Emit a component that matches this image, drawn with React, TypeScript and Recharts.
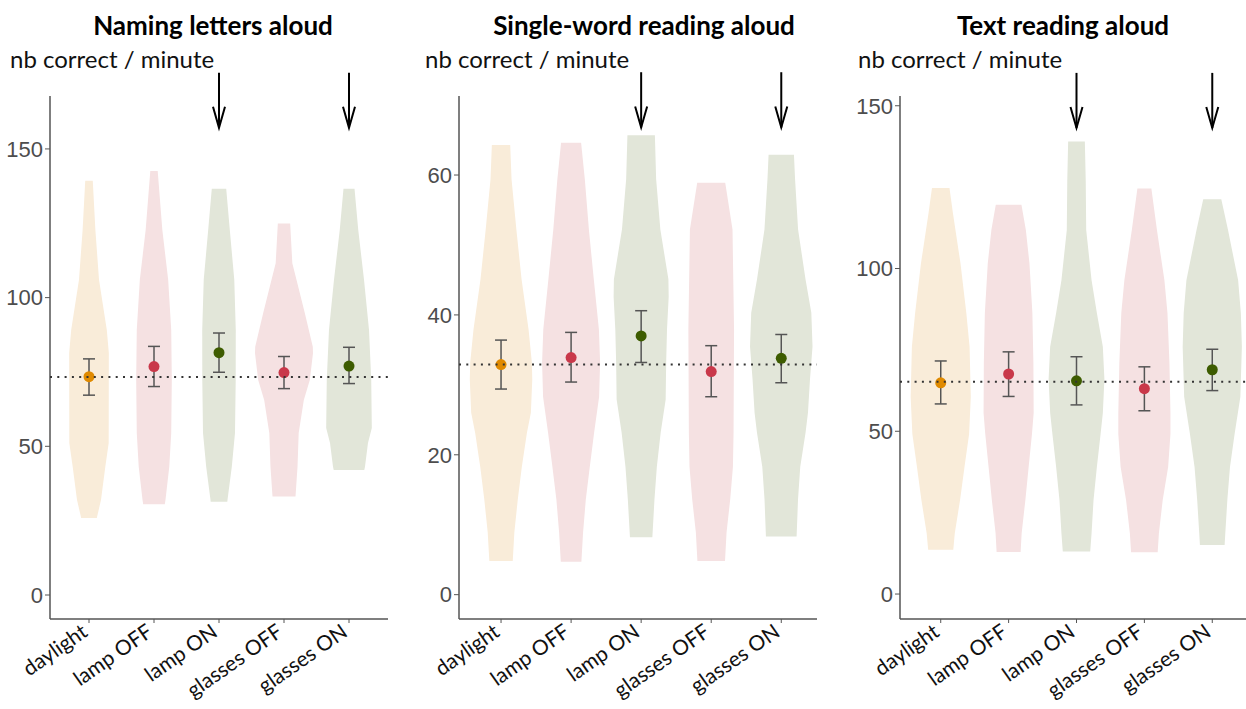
import React from 'react';
import { ScatterChart, Scatter, XAxis, YAxis, ReferenceLine, ErrorBar, Cell } from 'recharts';

const categories = ['daylight', 'lamp OFF', 'lamp ON', 'glasses OFF', 'glasses ON'];
const catPositions = [1, 2, 3, 4, 5];
const arrowCats = [3, 5];

// mean, lower / upper error bar ends, per condition
const lettersMean = [73.4, 76.8, 81.5, 74.8, 77.0];
const lettersLow = [67.2, 70.1, 74.9, 69.4, 71.1];
const lettersHigh = [79.4, 83.6, 88.1, 80.2, 83.3];
const lettersRef = 73.3;

const wordsMean = [32.9, 33.9, 37.0, 31.9, 33.8];
const wordsLow = [29.4, 30.4, 33.2, 28.3, 30.3];
const wordsHigh = [36.4, 37.5, 40.6, 35.6, 37.2];
const wordsRef = 32.9;

const textMean = [64.9, 67.6, 65.5, 63.1, 68.9];
const textLow = [58.4, 60.7, 58.1, 56.3, 62.5];
const textHigh = [71.6, 74.4, 72.9, 69.8, 75.2];
const textRef = 65.2;

// violin profiles: [value, half width in category units], top to bottom
type Profile = [number, number][];

const lettersViolins: Profile[] = [
  [[139.3, 0.058], [122.8, 0.098], [106, 0.154], [89.1, 0.274], [81.4, 0.305], [51.1, 0.303], [43.1, 0.251], [32, 0.185], [25.9, 0.12]],
  [[142.6, 0.057], [122.8, 0.128], [106, 0.218], [89.1, 0.265], [72.3, 0.274], [54.5, 0.265], [43.1, 0.235], [32, 0.177], [30.5, 0.166]],
  [[136.6, 0.111], [122.8, 0.166], [106, 0.235], [89.1, 0.258], [72.3, 0.257], [54.5, 0.246], [43.1, 0.197], [32, 0.131], [31.4, 0.128]],
  [[124.9, 0.095], [111.6, 0.128], [106, 0.192], [94.8, 0.32], [83.5, 0.443], [81.3, 0.446], [72.3, 0.397], [65.6, 0.305], [54.5, 0.226], [43.1, 0.208], [33.1, 0.177]],
  [[136.6, 0.085], [122.8, 0.142], [106, 0.231], [89.1, 0.308], [72.3, 0.342], [56.2, 0.351], [51.1, 0.292], [43.1, 0.246], [42.0, 0.235]],
];

const wordsViolins: Profile[] = [
  [[64.3, 0.131], [59.4, 0.15], [52.2, 0.219], [45.1, 0.293], [37.9, 0.393], [33.2, 0.44], [30.8, 0.446], [26, 0.426], [23.1, 0.369], [18.3, 0.297], [13.6, 0.239], [8.9, 0.19], [4.8, 0.167]],
  [[64.6, 0.143], [59.4, 0.196], [52.2, 0.254], [45.1, 0.324], [37.9, 0.397], [33.2, 0.414], [28.3, 0.4], [23.2, 0.329], [18.3, 0.267], [13.6, 0.21], [8.9, 0.171], [4.7, 0.147]],
  [[65.7, 0.196], [59.4, 0.214], [52.2, 0.274], [45.1, 0.389], [42.6, 0.393], [37.9, 0.369], [33.2, 0.357], [27.9, 0.35], [23.2, 0.279], [18.3, 0.224], [13.6, 0.19], [8.2, 0.16]],
  [[58.9, 0.2], [52.2, 0.304], [37.9, 0.326], [23.2, 0.319], [18.3, 0.31], [13.6, 0.271], [8.9, 0.219], [4.8, 0.197]],
  [[62.9, 0.181], [59.4, 0.197], [52.2, 0.24], [45.1, 0.346], [40.3, 0.429], [35.5, 0.446], [30.8, 0.41], [26, 0.381], [23.2, 0.347], [18.3, 0.271], [13.6, 0.239], [8.3, 0.219]],
];

const textViolins: Profile[] = [
  [[124.7, 0.129], [117, 0.18], [101.6, 0.291], [86.3, 0.377], [76, 0.425], [60.6, 0.443], [49.2, 0.418], [39, 0.35], [28.9, 0.285], [18.7, 0.207], [13.6, 0.185]],
  [[119.6, 0.189], [111.8, 0.254], [101.6, 0.307], [86.3, 0.35], [71, 0.365], [55.6, 0.369], [49.2, 0.344], [39, 0.295], [28.9, 0.247], [18.7, 0.192], [12.9, 0.177]],
  [[139, 0.123], [127, 0.136], [111.8, 0.143], [96.4, 0.222], [86.3, 0.3], [76, 0.388], [66, 0.411], [55.6, 0.388], [49.2, 0.355], [39, 0.3], [28.9, 0.251], [18.7, 0.222], [13.1, 0.202]],
  [[124.6, 0.103], [111.8, 0.185], [96.4, 0.295], [86.3, 0.34], [71, 0.369], [55.6, 0.384], [49.2, 0.384], [39, 0.35], [28.9, 0.27], [18.7, 0.214], [12.8, 0.196]],
  [[121.3, 0.133], [111.8, 0.232], [96.4, 0.381], [86.3, 0.421], [76, 0.436], [60.6, 0.414], [49.2, 0.329], [39, 0.261], [28.9, 0.222], [18.7, 0.192], [15.1, 0.182]],
];

const violinFills = ['#f9ecd9', '#f5e1e2', '#e2e6d9', '#f5e1e2', '#e2e6d9'];
const pointColors = ['#e08a00', '#c9384a', '#3d5c00', '#c9384a', '#3d5c00'];

const panels = [
  {
    title: 'Naming letters aloud', titleX: 213, labelX: 10, left: 0, width: 398,
    mean: lettersMean, low: lettersLow, high: lettersHigh, refValue: lettersRef, violins: lettersViolins,
    yDomain: [-8.07, 167.8], yTicks: [0, 50, 100, 150], xDomain: [0.4, 5.6], arrow: [175.6, 157.1],
  },
  {
    title: 'Single-word reading aloud', titleX: 644, labelX: 425, left: 409, width: 418,
    mean: wordsMean, low: wordsLow, high: wordsHigh, refValue: wordsRef, violins: wordsViolins,
    yDomain: [-3.48, 71.3], yTicks: [0, 20, 40, 60], xDomain: [0.4, 5.51], arrow: [74.7, 66.8],
  },
  {
    title: 'Text reading aloud', titleX: 1063, labelX: 858, left: 850, width: 413,
    mean: textMean, low: textLow, high: textHigh, refValue: textRef, violins: textViolins,
    yDomain: [-7.67, 153.0], yTicks: [0, 50, 100, 150], xDomain: [0.4, 5.6], arrow: [160.1, 143.2],
  },
];

function outline(center: number, profile: Profile) {
  const left = profile.map(([v, w]) => ({ x: center - w, y: v }));
  const right = [...profile].reverse().map(([v, w]) => ({ x: center + w, y: v }));
  return [...left, ...right];
}

const noShape = () => <g />;

const dot = (props: any) => <circle cx={props.cx} cy={props.cy} r={5.5} fill={props.fill} />;

const arrowShape = (props: any) => {
  const { x1, y1, x2, y2 } = props;
  return (
    <g>
      <line x1={x1} y1={y1} x2={x2} y2={y2} stroke="#000" strokeWidth={2} />
      <path d={`M${x2 - 6},${y2 - 21} L${x2},${y2} L${x2 + 6},${y2 - 21}`} fill="none" stroke="#000" strokeWidth={2} />
    </g>
  );
};

const XTick = (props: any) => {
  const { x, y, payload } = props;
  const ax = x;
  const ay = y + 10;
  return (
    <text x={ax} y={ay} transform={`rotate(-35, ${ax}, ${ay})`} textAnchor="end" fontFamily="Lato, sans-serif" fontSize={21} fill="#111">
      {categories[payload.value - 1]}
    </text>
  );
};

function Panel({ p }: { p: any }) {
  const means = p.mean.map((m: number, i: number) => ({ x: i + 1, y: m, err: [m - p.low[i], p.high[i] - m] }));
  return (
    <div style={{ position: 'absolute', left: p.left, top: 0 }}>
      <ScatterChart width={p.width} height={709} margin={{ top: 96, right: 10, bottom: 10, left: 0 }}>
        <XAxis
          type="number" dataKey="x" domain={p.xDomain} ticks={catPositions} allowDataOverflow interval={0}
          tick={<XTick />} tickSize={4} height={80}
          axisLine={{ stroke: '#555', strokeWidth: 1.5 }} tickLine={{ stroke: '#555' }}
        />
        <YAxis
          type="number" dataKey="y" domain={p.yDomain} ticks={p.yTicks} allowDataOverflow interval={0}
          width={50} tickSize={5}
          axisLine={{ stroke: '#555', strokeWidth: 1.5 }} tickLine={{ stroke: '#555' }}
          tick={{ fill: '#4d4d4d', fontSize: 22, fontFamily: 'Liberation Sans, Arial, sans-serif' }}
        />
        {p.violins.map((v: Profile, i: number) => (
          <Scatter key={i} zIndex={100} data={outline(i + 1, v)} line={{ fill: violinFills[i], stroke: 'none' }} shape={noShape} isAnimationActive={false} />
        ))}
        <Scatter data={means} shape={dot} zIndex={700} isAnimationActive={false}>
          {means.map((_: any, i: number) => <Cell key={i} fill={pointColors[i]} />)}
          <ErrorBar dataKey="err" direction="y" width={6} stroke="#555" strokeWidth={1.5} zIndex={650} />
        </Scatter>
        <ReferenceLine y={p.refValue} zIndex={1500} stroke="#333" strokeWidth={2} strokeDasharray="2 5.3" ifOverflow="visible" />
        {arrowCats.map((c) => (
          <ReferenceLine key={c} zIndex={1500} segment={[{ x: c, y: p.arrow[0] }, { x: c, y: p.arrow[1] }]} shape={arrowShape} ifOverflow="visible" />
        ))}
      </ScatterChart>
    </div>
  );
}

export default function App() {
  return (
    <div style={{ position: 'absolute', left: 0, top: 0, width: 1246, height: 709, overflow: 'hidden', background: '#fff' }}>
      {panels.map((p, i) => <Panel key={i} p={p} />)}
      <svg width={1246} height={709} style={{ position: 'absolute', left: 0, top: 0, pointerEvents: 'none' }}>
        {panels.map((p, i) => (
          <g key={i}>
            <text x={p.titleX} y={35} textAnchor="middle" fontFamily="Lato, sans-serif" fontWeight="bold" fontSize={26} fill="#000">{p.title}</text>
            <text x={p.labelX} y={68} fontFamily="Lato, sans-serif" fontSize={24} fill="#111">nb correct / minute</text>
          </g>
        ))}
      </svg>
    </div>
  );
}
